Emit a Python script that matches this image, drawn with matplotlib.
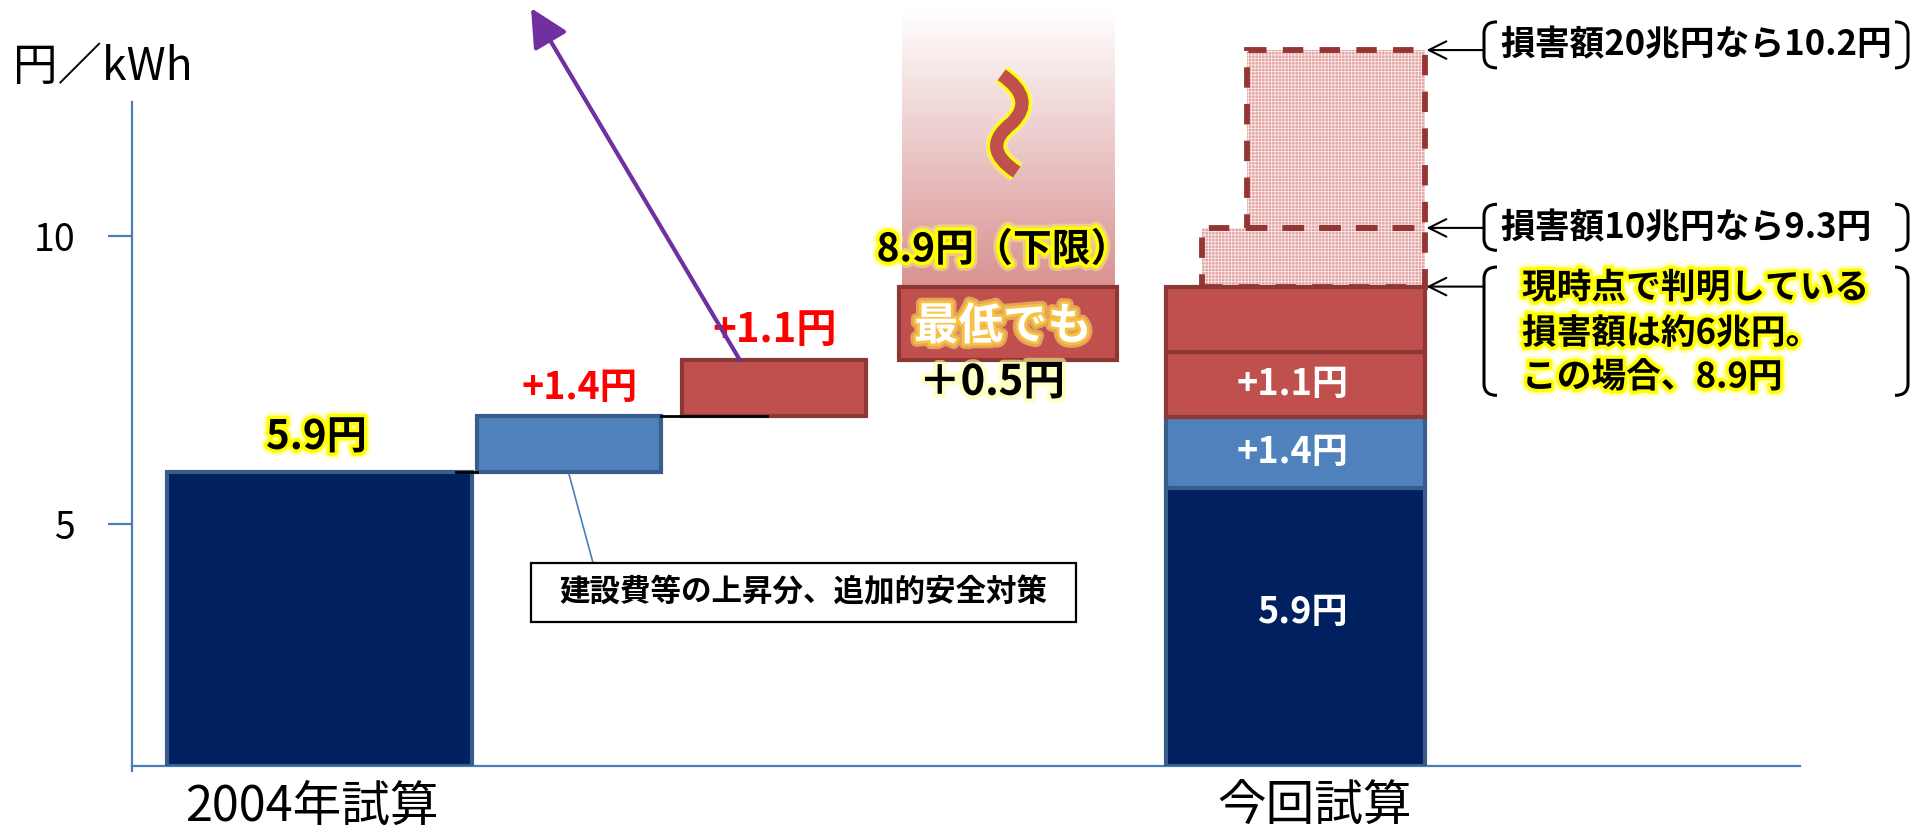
import numpy as np
import matplotlib
matplotlib.use('Agg')
import matplotlib.pyplot as plt
import matplotlib.patheffects as pe
from matplotlib.patches import Rectangle, PathPatch
from matplotlib.path import Path

plt.rcParams['font.family'] = ['Noto Sans CJK JP', 'DejaVu Sans']
plt.rcParams['hatch.linewidth'] = 0.6

# ---------------- data ----------------
categories = ['2004年試算', '今回試算']
unit_label = '円／kWh'
yticks = [5, 10]
base_2004 = 5.9                              # 2004 estimate bar top
step_heights = [0.97, 0.97, 1.27]            # drawn heights of the waterfall steps
step_labels = ['+1.4円', '+1.1円', '＋0.5円']
stack_heights = [4.83, 1.24, 1.13, 1.13]     # 今回試算 stacked segments (drawn)
stack_labels = ['5.9円', '+1.4円', '+1.1円', '']
damage_heights = [1.02, 3.09]                # dashed damage-scenario boxes (drawn)
damage_labels = ['損害額10兆円なら9.3円', '損害額20兆円なら10.2円']
current_note = ['現時点で判明している', '損害額は約6兆円。', 'この場合、8.9円']
lower_bound_label = '8.9円（下限）'
minimum_label = '最低でも'
callout_label = '建設費等の上昇分、追加的安全対策'

# ---------------- styles ----------------
navy, navy_edge = '#002060', '#385D8A'
blue, blue_edge = '#4F81BD', '#385D8A'
red, red_edge = '#C0504D', '#8C3836'
dash_edge = '#943634'
axis_color = '#4A7EBB'
purple = '#7030A0'

# ---------------- layout ----------------
y_floor, y_top, spine_top = 0.79, 14.10, 12.33
x_max, axis_right = 17.98, 16.68
pos_2004, w_2004 = 1.875, 3.05
step_x = [4.37, 6.42, 8.76]
step_w = [1.84, 1.84, 2.18]
pos_now, w_now = 11.63, 2.59
damage_w = [2.23, 1.78]

fig = plt.figure(figsize=(19.3, 8.32), dpi=100)
ax = fig.add_axes([132 / 1930, 66 / 832, 1 - 132 / 1930, 1 - 66 / 832])
ax.set_xlim(0, x_max)
ax.set_ylim(y_floor, y_top)
for s in ['top', 'right']:
    ax.spines[s].set_visible(False)
for s in ['left', 'bottom']:
    ax.spines[s].set_color(axis_color)
    ax.spines[s].set_linewidth(1.6)
ax.spines['left'].set_bounds(y_floor - 0.08, spine_top)
ax.spines['bottom'].set_bounds(0, axis_right)

ax.set_yticks(yticks)
ax.set_yticklabels([str(t) for t in yticks])
ax.tick_params(axis='y', length=17, width=1.6, color=axis_color, labelsize=27,
               pad=24, direction='out')
ax.set_xticks([pos_2004 - 0.08, pos_now + 0.2])
ax.set_xticklabels(categories)
ax.tick_params(axis='x', length=0, labelsize=35, pad=12)

fig.text(13 / 1930, 1 - 67 / 832, unit_label, fontsize=32, ha='left', va='center')

glow = [pe.Stroke(linewidth=9, foreground='#FFFF66', alpha=0.45),
        pe.Stroke(linewidth=5, foreground='#FFFF00'), pe.Normal()]
glow_soft = [pe.Stroke(linewidth=6, foreground='#FFFF99', alpha=0.6), pe.Normal()]
glow_gold = [pe.Stroke(linewidth=8, foreground='#FFD966', alpha=0.6),
             pe.Stroke(linewidth=4, foreground='#F5C242'), pe.Normal()]

# ---------------- 2004 bar ----------------
ax.bar(pos_2004, base_2004 - y_floor, bottom=y_floor, width=w_2004,
       color=navy, edgecolor=navy_edge, linewidth=3, zorder=3)
ax.text(pos_2004 - 0.03, base_2004 + 0.6, '5.9円', fontsize=29, fontweight='bold',
        ha='center', va='center', color='black', path_effects=glow, zorder=6)

# ---------------- waterfall steps ----------------
step_bottoms = base_2004 + np.concatenate([[0], np.cumsum(step_heights)[:-1]])
step_tops = step_bottoms + np.array(step_heights)
step_colors = [blue, red, red]
step_edges = [blue_edge, red_edge, red_edge]
ax.bar(step_x, step_heights, bottom=step_bottoms, width=step_w,
       color=step_colors, edgecolor=step_edges, linewidth=3, zorder=3)

# connectors
ax.plot([pos_2004 + w_2004 / 2 - 0.16, step_x[0] - step_w[0] / 2], [base_2004] * 2,
        color='black', lw=2, zorder=5)
ax.plot([step_x[0] + step_w[0] / 2, step_x[1] - step_w[1] / 2 + 0.85], [step_tops[0]] * 2,
        color='black', lw=2, zorder=5)

ax.text(step_x[0] + 0.11, step_tops[0] + 0.49, step_labels[0], fontsize=27,
        fontweight='bold', color='#FF0000', ha='center', va='center', zorder=6)
ax.text(step_x[1] + 0.01, step_tops[1] + 0.52, step_labels[1], fontsize=29,
        fontweight='bold', color='#FF0000', ha='center', va='center', zorder=6)
ax.text(step_x[2] - 0.16, step_bottoms[2] - 0.39, step_labels[2], fontsize=30,
        fontweight='bold', color='black', ha='center', va='center',
        path_effects=glow_soft, zorder=6)

# gradient column above the minimum bar
grad_top = 13.93
n = 256
t = np.linspace(0, 1, n)[:, None]
c_top = np.array([1.0, 1.0, 1.0])
c_bot = np.array([0.85, 0.57, 0.57])
img = (c_top * (1 - t) + c_bot * t).reshape(n, 1, 3)
gx0 = step_x[2] - step_w[2] / 2 + 0.03
gx1 = step_x[2] + step_w[2] / 2 - 0.02
ax.imshow(img, extent=[gx0, gx1, step_tops[2], grad_top], aspect='auto',
          interpolation='bilinear', zorder=2)

# "〜" squiggle (decorative glyph drawn as a stroke)
cx = step_x[2]
wave = Path([(cx - 0.063, 12.80), (cx + 0.287, 12.38), (cx + 0.037, 11.96),
             (cx - 0.288, 11.53), (cx + 0.087, 11.11)],
            [Path.MOVETO, Path.CURVE3, Path.CURVE3, Path.CURVE3, Path.CURVE3])
ax.add_patch(PathPatch(wave, facecolor='none', edgecolor=red, linewidth=9.5,
                       capstyle='butt', zorder=6,
                       path_effects=[pe.Stroke(linewidth=16, foreground='#FFFF66', alpha=0.5),
                                     pe.Stroke(linewidth=13, foreground='#FFFF00'),
                                     pe.Normal()]))

ax.text(step_x[2] - 0.05, step_tops[2] + 0.65, lower_bound_label, fontsize=28,
        fontweight='bold', color='black', ha='center', va='center',
        path_effects=glow, zorder=6)
ax.text(step_x[2] - 0.05, (step_bottoms[2] + step_tops[2]) / 2 - 0.05, minimum_label,
        fontsize=32, fontweight='bold', color='white', ha='center', va='center',
        path_effects=glow_gold, zorder=6)

# purple arrow
ax.annotate('', xy=(3.99, 13.96), xytext=(6.08, step_tops[1]),
            arrowprops=dict(arrowstyle='-|>,head_length=1.3,head_width=0.65',
                            color=purple, lw=3, mutation_scale=18,
                            shrinkA=0, shrinkB=0), zorder=7)

# callout box
ax.plot([step_x[0], 4.61], [step_bottoms[0] - 0.04, 4.32], color=axis_color, lw=1.2, zorder=4)
ax.add_patch(Rectangle((3.99, 3.29), 5.45, 1.03, facecolor='white', edgecolor='black',
                       linewidth=1.6, zorder=5))
ax.text(3.99 + 5.45 / 2, 3.29 + 1.03 / 2, callout_label, fontsize=22, fontweight='bold',
        ha='center', va='center', zorder=6)

# ---------------- 今回試算 stack ----------------
stack_bottoms = y_floor + np.concatenate([[0], np.cumsum(stack_heights)[:-1]])
stack_tops = stack_bottoms + np.array(stack_heights)
right_edge = pos_now + w_now / 2

dmg_bottoms = stack_tops[-1] + np.concatenate([[0], np.cumsum(damage_heights)[:-1]])
dmg_tops = dmg_bottoms + np.array(damage_heights)
for b, h, w in zip(dmg_bottoms, damage_heights, damage_w):
    ax.add_patch(Rectangle((right_edge - w, b), w, h, facecolor='#E4A4A3',
                           edgecolor='#F9ECEC', linewidth=0, hatch='+++++', zorder=2))
for b, h, w in zip(dmg_bottoms, damage_heights, damage_w):
    ax.add_patch(Rectangle((right_edge - w, b), w, h, facecolor='none',
                           edgecolor=dash_edge, linewidth=4.2,
                           linestyle=(0, (3.5, 2.8)), zorder=3))

seg_colors = [navy, blue, red, red]
seg_edges = [navy_edge, blue_edge, red_edge, red_edge]
ax.bar([pos_now] * 4, stack_heights, bottom=stack_bottoms, width=w_now,
       color=seg_colors, edgecolor=seg_edges, linewidth=3, zorder=4)
label_y = [3.45, None, None, None]
for i, lab in enumerate(stack_labels):
    if not lab:
        continue
    y = label_y[i] if label_y[i] is not None else (stack_bottoms[i] + stack_tops[i]) / 2
    ax.text(pos_now + (0.07 if i == 0 else -0.02), y, lab, fontsize=26, fontweight='bold',
            color='white', ha='center', va='center', zorder=6)

# ---------------- right-hand notes ----------------
def bracket(x0, x1, yb, yt, hook=0.13, r=0.2):
    for xa, sgn in ((x0, 1), (x1, -1)):
        verts = [(xa + sgn * hook, yt), (xa, yt), (xa, yt - r),
                 (xa, yb + r), (xa, yb), (xa + sgn * hook, yb)]
        codes = [Path.MOVETO, Path.CURVE3, Path.CURVE3,
                 Path.LINETO, Path.CURVE3, Path.CURVE3]
        ax.add_patch(PathPatch(Path(verts, codes), facecolor='none',
                               edgecolor='black', linewidth=2.2, clip_on=False, zorder=6))

arrow_tail = 13.51
note_x0, note_x1 = 13.52, 17.76
arrow_ys = [stack_tops[-1], dmg_tops[0], dmg_tops[1]]
for y in arrow_ys:
    ax.annotate('', xy=(right_edge + 0.02, y), xytext=(arrow_tail, y),
                arrowprops=dict(arrowstyle='->,head_length=0.9,head_width=0.45',
                                color='black', lw=1.5, mutation_scale=14,
                                shrinkA=0, shrinkB=0), zorder=6)

dmg_text_y = [10.15, 13.32]
for lab, y in zip(damage_labels, dmg_text_y):
    ax.text(13.68, y, lab, fontsize=25, fontweight='bold', ha='left', va='center', zorder=6)
    bracket(note_x0, note_x1, y - 0.40, y + 0.40)

note_y = [9.10, 8.31, 7.55]
for lab, y in zip(current_note, note_y):
    ax.text(13.90, y, lab, fontsize=25, fontweight='bold', ha='left', va='center',
            path_effects=glow, zorder=6)
bracket(note_x0, note_x1, 7.23, 9.46)

fig.savefig('out.png', dpi=100)
